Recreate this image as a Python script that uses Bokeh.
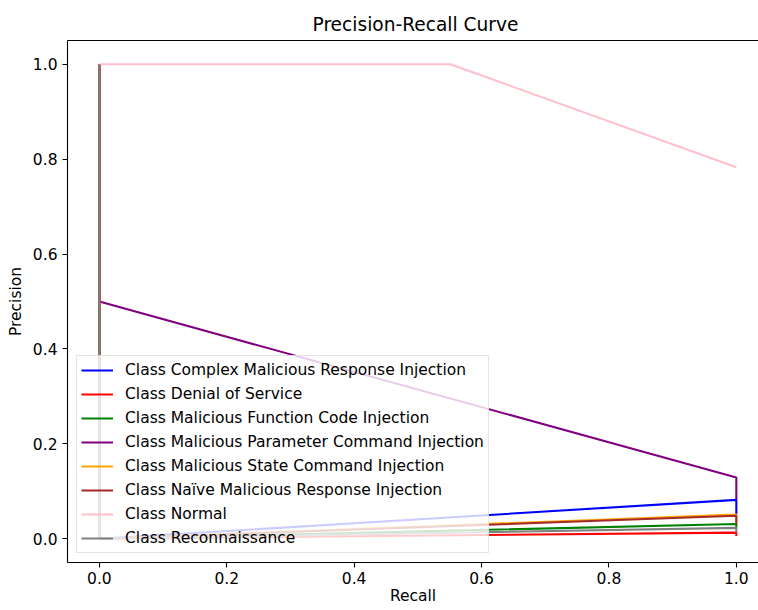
from bokeh.plotting import figure
from bokeh.models import LinearAxis, FixedTicker, Range1d, PrintfTickFormatter
from bokeh.embed import file_html
from bokeh.resources import INLINE

# ---- data ----
class_names = [
    "Class Complex Malicious Response Injection",
    "Class Denial of Service",
    "Class Malicious Function Code Injection",
    "Class Malicious Parameter Command Injection",
    "Class Malicious State Command Injection",
    "Class Na\u00efve Malicious Response Injection",
    "Class Normal",
    "Class Reconnaissance",
]
class_colors = ["blue", "red", "green", "purple", "orange", "brown", "pink", "gray"]

recall_complex = [1.0, 1.0, 0.0, 0.0]
precision_complex = [0.051, 0.082, 0.0, 1.0]
recall_dos = [1.0, 1.0, 0.0, 0.0]
precision_dos = [0.006, 0.013, 0.0, 1.0]
recall_function = [1.0, 1.0, 0.0, 0.0]
precision_function = [0.023, 0.031, 0.0, 1.0]
recall_parameter = [1.0, 1.0, 0.0, 0.0]
precision_parameter = [0.082, 0.129, 0.5, 1.0]
recall_state = [1.0, 1.0, 0.0, 0.0]
precision_state = [0.031, 0.051, 0.0, 1.0]
recall_naive = [1.0, 1.0, 0.0, 0.0]
precision_naive = [0.031, 0.0485, 0.0, 1.0]
recall_normal = [1.0, 0.551, 0.0]
precision_normal = [0.783, 1.0, 1.0]
recall_recon = [1.0, 1.0, 0.0, 0.0]
precision_recon = [0.013, 0.023, 0.0, 1.0]

recalls = [recall_complex, recall_dos, recall_function, recall_parameter,
           recall_state, recall_naive, recall_normal, recall_recon]
precisions = [precision_complex, precision_dos, precision_function, precision_parameter,
              precision_state, precision_naive, precision_normal, precision_recon]

x_ticks = [0.0, 0.2, 0.4, 0.6, 0.8, 1.0]
y_ticks = [0.0, 0.2, 0.4, 0.6, 0.8, 1.0]

FONT = "DejaVu Sans"
TXT = "15.5px"

p = figure(width=758, height=610, output_backend="svg", toolbar_location=None,
           x_range=Range1d(-0.05, 1.0348), y_range=Range1d(-0.05, 1.05),
           min_border_left=67, min_border_right=0, min_border_top=40, min_border_bottom=48,
           x_axis_label="Recall", y_axis_label="Precision")
p.title.text = "Precision-Recall Curve"
p.title.align = "left"
p.title.offset = 245
p.title.standoff = 11
p.title.text_font = FONT
p.title.text_font_size = "18.6px"
p.title.text_font_style = "normal"
p.title.text_color = "black"

p.grid.visible = False
p.outline_line_color = None
p.background_fill_color = "white"
p.border_fill_color = "white"

for ax in (p.xaxis[0], p.yaxis[0]):
    ax.axis_line_color = "black"
    ax.axis_line_width = 1.1
    ax.major_tick_line_color = "black"
    ax.major_tick_line_width = 1.1
    ax.major_tick_out = 5
    ax.major_tick_in = 0
    ax.minor_tick_line_color = None
    ax.major_label_text_font = FONT
    ax.major_label_text_font_size = TXT
    ax.major_label_text_color = "black"
    ax.axis_label_text_font = FONT
    ax.axis_label_text_font_size = TXT
    ax.axis_label_text_font_style = "normal"
    ax.axis_label_text_color = "black"
    ax.formatter = PrintfTickFormatter(format="%.1f")

p.xaxis[0].ticker = FixedTicker(ticks=x_ticks)
p.yaxis[0].ticker = FixedTicker(ticks=y_ticks)
p.xaxis[0].major_label_standoff = 4
p.xaxis[0].axis_label_standoff = 0
p.yaxis[0].major_label_standoff = 5
p.yaxis[0].axis_label_standoff = 5

top_axis = LinearAxis(ticker=FixedTicker(ticks=[]), axis_line_color="black", axis_line_width=1.1,
                      major_tick_line_color=None, minor_tick_line_color=None,
                      major_label_text_font_size="0px")
p.add_layout(top_axis, "above")

for name, color, rx, py in zip(class_names, class_colors, recalls, precisions):
    p.line(rx, py, line_color=color, line_width=2.1, legend_label=name)

lg = p.legend[0]
lg.location = (9, 9)
lg.label_text_font = FONT
lg.label_text_font_size = TXT
lg.label_text_color = "black"
lg.label_height = 20
lg.glyph_height = 20
lg.glyph_width = 32
lg.spacing = 4
lg.padding = 4
lg.margin = 0
lg.label_standoff = 12
lg.background_fill_color = "white"
lg.background_fill_alpha = 0.8
lg.border_line_color = "#cccccc"
lg.border_line_width = 1
lg.click_policy = "none"

open("out.html", "w").write(file_html(p, INLINE))
